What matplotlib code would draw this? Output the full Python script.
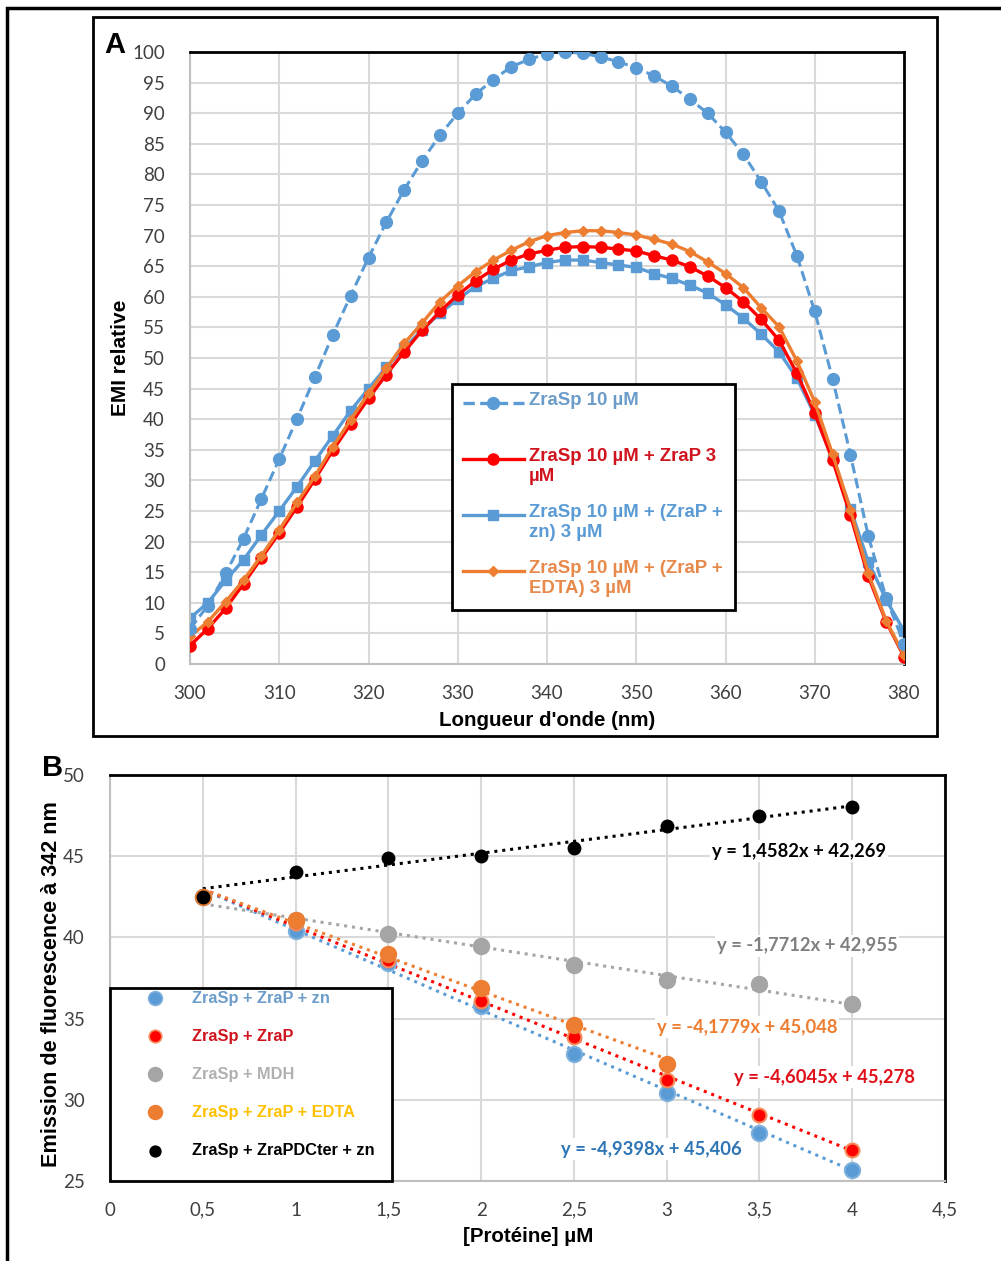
import numpy as np
import matplotlib
matplotlib.use("Agg")
import matplotlib.pyplot as plt
from matplotlib.patches import Rectangle
from matplotlib.lines import Line2D

# ---------- panel A data : emission spectra ----------
wavelength = np.arange(300, 382, 2)
zrasp = [5.8, 9.5, 14.8, 20.5, 27.0, 33.5, 40.1, 46.9, 53.8, 60.2, 66.4, 72.2, 77.5, 82.2,
         86.4, 90.0, 93.1, 95.5, 97.6, 98.8, 99.7, 100.0, 99.8, 99.2, 98.4, 97.4, 96.1, 94.4,
         92.3, 90.0, 86.9, 83.3, 78.8, 74.0, 66.7, 57.6, 46.6, 34.2, 20.9, 10.8, 3.3]
zrasp_zrap = [3.0, 5.8, 9.1, 13.1, 17.3, 21.4, 25.7, 30.2, 34.9, 39.2, 43.4, 47.3, 51.0, 54.5,
              57.6, 60.3, 62.6, 64.5, 66.0, 67.0, 67.6, 68.1, 68.2, 68.1, 67.8, 67.5, 66.7, 66.0,
              64.9, 63.4, 61.5, 59.2, 56.3, 52.9, 47.5, 41.0, 33.3, 24.3, 14.3, 6.9, 1.2]
zrasp_zrap_zn = [7.5, 10.0, 13.7, 17.0, 21.1, 25.0, 29.0, 33.2, 37.3, 41.4, 45.0, 48.5, 51.6, 54.6,
                 57.3, 59.6, 61.7, 63.0, 64.3, 64.9, 65.6, 66.0, 66.0, 65.6, 65.2, 64.8, 63.8, 63.0,
                 61.9, 60.6, 58.7, 56.5, 53.9, 51.0, 46.7, 40.7, 33.6, 25.4, 16.7, 10.5, 5.4]
zrasp_zrap_edta = [4.5, 6.9, 10.2, 13.7, 17.7, 21.9, 26.4, 30.7, 35.5, 39.9, 44.2, 48.3, 52.4, 55.7,
                   59.2, 61.8, 64.1, 66.0, 67.6, 69.0, 70.0, 70.5, 70.8, 70.8, 70.5, 70.1, 69.4, 68.6,
                   67.4, 65.7, 63.8, 61.5, 58.2, 55.1, 49.5, 42.8, 34.3, 25.2, 14.8, 7.1, 1.4]
labels_a = ["ZraSp 10 µM", "ZraSp 10 µM + ZraP 3\nµM", "ZraSp 10 µM + (ZraP +\nzn) 3 µM",
            "ZraSp 10 µM + (ZraP +\nEDTA) 3 µM"]

# ---------- panel B data : emission at 342 nm ----------
conc = [0.5, 1, 1.5, 2, 2.5, 3, 3.5, 4]
conc_edta = [0.5, 1, 1.5, 2, 2.5, 3]
em_zn = [42.5, 40.4, 38.4, 35.75, 32.8, 30.4, 27.95, 25.65]
em_zrap = [42.5, 40.9, 38.6, 36.1, 33.85, 31.25, 29.05, 26.9]
em_mdh = [42.5, 41.1, 40.2, 39.45, 38.3, 37.4, 37.1, 35.9]
em_edta = [42.5, 41.1, 39.0, 36.9, 34.6, 32.2]
em_dcter = [42.5, 44.05, 44.9, 45.0, 45.5, 46.85, 47.45, 48.0]
slopes = [-4.9398, -4.6045, -1.7712, -4.1779, 1.4582]
intercepts = [45.406, 45.278, 42.955, 45.048, 42.269]
labels_b = ["ZraSp + ZraP + zn", "ZraSp + ZraP", "ZraSp + MDH", "ZraSp + ZraP + EDTA",
            "ZraSp + ZraPDCter + zn"]

BLUE = "#5B9BD5"
RED = "#FF0000"
ORANGE = "#ED7D31"
GRAY = "#A5A5A5"
GRID = "#D9D9D9"

W, H = 1001, 1261
fig = plt.figure(figsize=(W / 100, H / 100), dpi=100)


def fx(px):
    return px / W


def fy(py):
    return 1 - py / H


def frame(x0, y0, x1, y1, lw=2.0, fc="none"):
    fig.patches.append(Rectangle((fx(x0), fy(y1)), fx(x1) - fx(x0), fy(y0) - fy(y1),
                                 transform=fig.transFigure, fill=(fc != "none"), facecolor=fc,
                                 edgecolor="black", lw=lw, zorder=5))


# outer frame and panel A frame
frame(7, 8, 1010, 1270, lw=2.5)
frame(93, 17, 937, 736, lw=2.0)


def style_axes(ax, xpad, ypad):
    ax.grid(True, color=GRID, lw=1.5)
    ax.set_axisbelow(True)
    ax.tick_params(length=0, labelsize=13.5, labelcolor="#404040")
    ax.tick_params(axis="x", pad=xpad)
    ax.tick_params(axis="y", pad=ypad)
    for lab in ax.get_xticklabels() + ax.get_yticklabels():
        lab.set_family("Lato")
    for s in ["top", "right"]:
        ax.spines[s].set_color("black")
        ax.spines[s].set_linewidth(2)
    for s in ["left", "bottom"]:
        ax.spines[s].set_color("#BFBFBF")
        ax.spines[s].set_linewidth(1.5)


# ---------- panel A ----------
axA = fig.add_axes([fx(190), fy(664), fx(904) - fx(190), fy(52) - fy(664)])
axA.plot(wavelength, zrasp, color=BLUE, ls=(0, (3.4, 1.6)), lw=2.2, marker="o", ms=8.5, zorder=4)
axA.plot(wavelength, zrasp_zrap, color=RED, lw=2.4, marker="o", ms=8, zorder=3)
axA.plot(wavelength, zrasp_zrap_zn, color=BLUE, lw=2.4, marker="s", ms=7.5, zorder=2)
axA.plot(wavelength, zrasp_zrap_edta, color=ORANGE, lw=2.4, marker="D", ms=5.5, zorder=3.5)
axA.set_xlim(300, 380)
axA.set_ylim(0, 100)
axA.set_xticks(np.arange(300, 381, 10))
axA.set_yticks(np.arange(0, 101, 5))
style_axes(axA, 15, 18)

fig.text(fx(115), fy(45), "A", fontsize=21, fontweight="bold", ha="center", va="center",
         family="Liberation Sans")
fig.text(fx(547), fy(721), "Longueur d'onde (nm)", fontsize=14.8, fontweight="bold",
         ha="center", va="center", family="Liberation Sans")
fig.text(fx(120), fy(358), "EMI relative", fontsize=15, fontweight="bold", rotation=90,
         ha="center", va="center", family="Liberation Sans")

# legend A (drawn by hand so the key sits on the first text line)
frame(452, 384, 735, 610, lw=2.0, fc="white")
leg_a_rows = [403, 459, 515, 571]
leg_a_colors = [BLUE, RED, BLUE, ORANGE]
leg_a_text = ["#6C9CC9", "#D0141E", "#5B9BD5", "#E8894A"]
leg_a_style = [dict(ls=(0, (3.4, 1.6)), marker="o", ms=8.5), dict(ls="-", marker="o", ms=8),
               dict(ls="-", marker="s", ms=7.5), dict(ls="-", marker="D", ms=5.5)]
for row, col, tcol, st, lab in zip(leg_a_rows, leg_a_colors, leg_a_text, leg_a_style, labels_a):
    fig.add_artist(Line2D([fx(463), fx(524)], [fy(row), fy(row)], color=col, lw=2.4,
                          ls=st["ls"], transform=fig.transFigure, zorder=6))
    fig.add_artist(Line2D([fx(493)], [fy(row)], color=col, marker=st["marker"], ms=st["ms"],
                          transform=fig.transFigure, zorder=6))
    fig.text(fx(529), fy(row - 11), lab, color=tcol, fontsize=13.4, fontweight="bold",
             family="Liberation Sans", ha="left", va="top", linespacing=1.22, zorder=6)

# ---------- panel B ----------
axB = fig.add_axes([fx(110), fy(1181), fx(945) - fx(110), fy(775) - fy(1181)])
series_b = [(conc, em_zn, BLUE, 11, "#7EB0DE"),
            (conc, em_zrap, RED, 10, "#F58B5A"),
            (conc, em_mdh, GRAY, 11, GRAY),
            (conc_edta, em_edta, ORANGE, 11, ORANGE),
            (conc, em_dcter, "black", 8.5, "black")]
for (xs, ys, col, ms, ec), a, b in zip(series_b, slopes, intercepts):
    xt = np.array([xs[0], xs[-1]])
    axB.plot(xt, a * xt + b, color=col, ls=(0, (1, 1.6)), lw=2.2, zorder=3)
for (xs, ys, col, ms, ec) in series_b:
    axB.plot(xs, ys, ls="none", marker="o", ms=ms, color=col, mec=ec, mew=1.5, zorder=4)
axB.set_xlim(0, 4.5)
axB.set_ylim(25, 50)
axB.set_xticks(np.arange(0, 4.51, 0.5))
axB.set_xticklabels([("%g" % v).replace(".", ",") for v in np.arange(0, 4.51, 0.5)])
axB.set_yticks(np.arange(25, 51, 5))
style_axes(axB, 15, 18)

# trendline equations
eq_pos = [(651, 1149), (824, 1077), (807, 946), (747, 1027), (799, 851)]
eq_col = ["#2E75B6", "#E0101A", "#7F7F7F", ORANGE, "black"]
for (px, py), col, a, b in zip(eq_pos, eq_col, slopes, intercepts):
    txt = "y = %.4fx + %.3f" % (a, b)
    fig.text(fx(px), fy(py), txt.replace(".", ","), color=col, fontsize=13.2, fontweight="bold",
             family="Lato", ha="center", va="center", zorder=6,
             bbox=dict(fc="white", ec="none", pad=1.5))

fig.text(fx(53), fy(768), "B", fontsize=21, fontweight="bold", ha="center", va="center",
         family="Liberation Sans")
fig.text(fx(528), fy(1236), "[Protéine] µM", fontsize=14.8, fontweight="bold",
         ha="center", va="center", family="Liberation Sans")
fig.text(fx(52), fy(984), "Emission de fluorescence à 342 nm", fontsize=15.6, fontweight="bold",
         rotation=90, ha="center", va="center", family="Liberation Sans")

# legend B
frame(110, 988, 392, 1181, lw=2.0, fc="white")
leg_b_rows = [998, 1036, 1074, 1112, 1151]
leg_b_text = ["#6C9CC9", "#D0141E", "#B0B0B0", "#FFC000", "black"]
for row, (xs, ys, col, ms, ec), tcol, lab in zip(leg_b_rows, series_b, leg_b_text, labels_b):
    fig.add_artist(Line2D([fx(155)], [fy(row)], color=col, marker="o", ms=ms * 0.9, mec=ec,
                          mew=1.2, transform=fig.transFigure, zorder=6))
    fig.text(fx(192), fy(row), lab, color=tcol, fontsize=11.8, fontweight="bold",
             family="Liberation Sans", ha="left", va="center", zorder=6)

fig.savefig("out.png", dpi=100)
